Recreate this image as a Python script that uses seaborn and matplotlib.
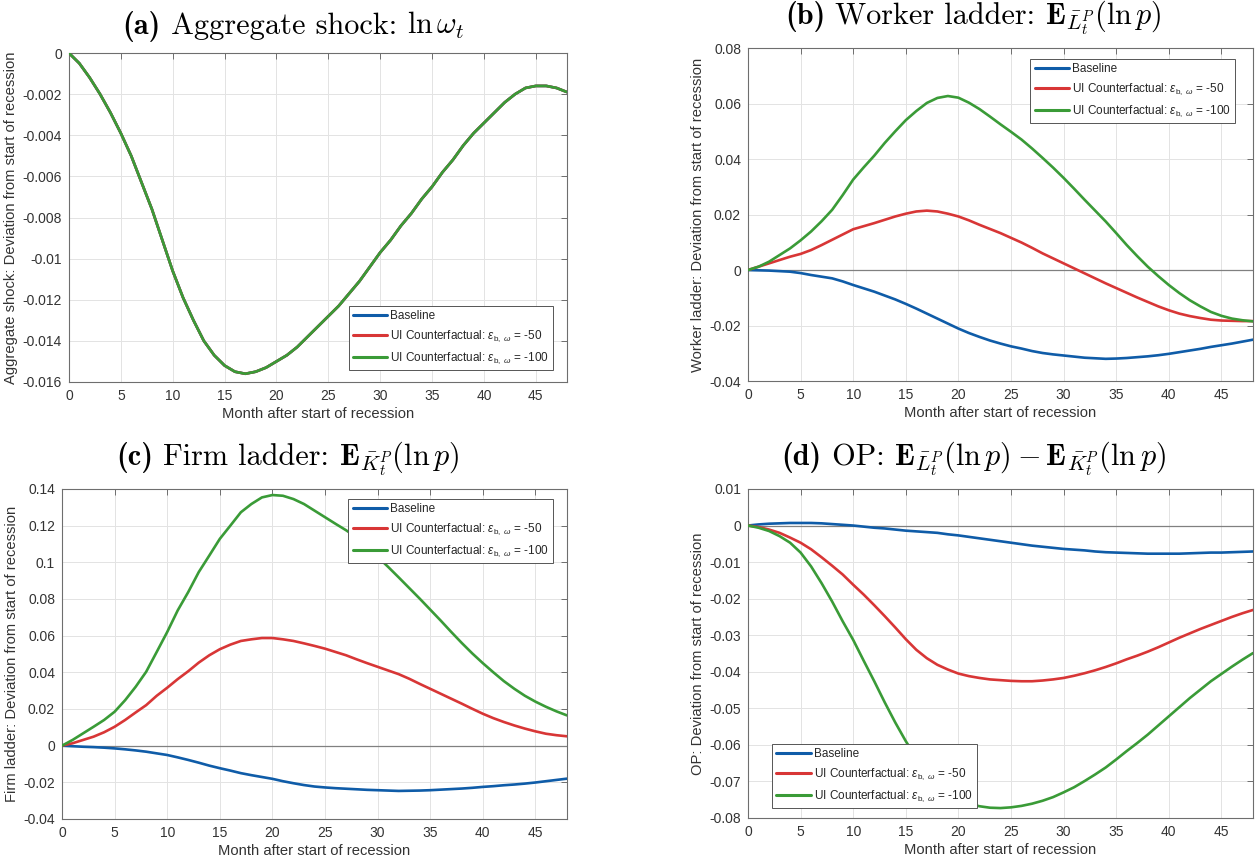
import numpy as np
import pandas as pd
import matplotlib
matplotlib.use("Agg")
import matplotlib.pyplot as plt
from matplotlib.ticker import FuncFormatter, MultipleLocator
from matplotlib.offsetbox import TextArea, HPacker, AnchoredOffsetbox
import seaborn as sns

# Months after the start of the recession
months = list(range(0, 49))

# (a) Aggregate shock ln(omega_t) - identical across scenarios
shock = [0.0, -0.0005, -0.0012, -0.0020, -0.0029, -0.0039, -0.0050, -0.0063, -0.0076, -0.0091,
         -0.0106, -0.0119, -0.0130, -0.0140, -0.0147, -0.0152, -0.0155, -0.0156, -0.0155, -0.0153,
         -0.0150, -0.0147, -0.0143, -0.0138, -0.0133, -0.0128, -0.0123, -0.0117, -0.0111, -0.0104,
         -0.0097, -0.0091, -0.0084, -0.0078, -0.0071, -0.0065, -0.0058, -0.0052, -0.0045, -0.0039,
         -0.0034, -0.0029, -0.0024, -0.0020, -0.0017, -0.0016, -0.0016, -0.0017, -0.0019]

# (b) Worker ladder
worker_base = [0.0, -0.0001, -0.0002, -0.0004, -0.0006, -0.0011, -0.0018, -0.0024, -0.0030, -0.0041,
               -0.0054, -0.0066, -0.0078, -0.0092, -0.0106, -0.0122, -0.0139, -0.0157, -0.0175, -0.0193,
               -0.0211, -0.0227, -0.0241, -0.0254, -0.0265, -0.0275, -0.0283, -0.0292, -0.0299, -0.0304,
               -0.0308, -0.0312, -0.0316, -0.0318, -0.0320, -0.0319, -0.0317, -0.0314, -0.0311, -0.0307,
               -0.0302, -0.0296, -0.0290, -0.0284, -0.0277, -0.0271, -0.0265, -0.0258, -0.0251]
worker_ui50 = [0.0, 0.0012, 0.0024, 0.0036, 0.0048, 0.0058, 0.0072, 0.0090, 0.0109, 0.0128,
               0.0147, 0.0158, 0.0169, 0.0181, 0.0193, 0.0203, 0.0211, 0.0214, 0.0211, 0.0203,
               0.0193, 0.0179, 0.0163, 0.0148, 0.0133, 0.0116, 0.0099, 0.0080, 0.0060, 0.0042,
               0.0024, 0.0006, -0.0012, -0.0030, -0.0048, -0.0065, -0.0082, -0.0099, -0.0115, -0.0131,
               -0.0145, -0.0157, -0.0166, -0.0173, -0.0179, -0.0182, -0.0183, -0.0184, -0.0184]
worker_ui100 = [0.0, 0.0012, 0.0030, 0.0054, 0.0078, 0.0107, 0.0139, 0.0176, 0.0217, 0.0270,
                0.0326, 0.0370, 0.0412, 0.0458, 0.0500, 0.0540, 0.0573, 0.0602, 0.0620, 0.0627,
                0.0621, 0.0603, 0.0580, 0.0553, 0.0525, 0.0498, 0.0470, 0.0438, 0.0404, 0.0369,
                0.0332, 0.0293, 0.0253, 0.0214, 0.0175, 0.0133, 0.0090, 0.0050, 0.0012, -0.0022,
                -0.0054, -0.0083, -0.0109, -0.0131, -0.0151, -0.0165, -0.0175, -0.0181, -0.0185]

# (c) Firm ladder
firm_base = [0.0, -0.0003, -0.0006, -0.0008, -0.0011, -0.0015, -0.0020, -0.0026, -0.0033, -0.0042,
             -0.0051, -0.0064, -0.0078, -0.0093, -0.0109, -0.0123, -0.0136, -0.0150, -0.0161, -0.0171,
             -0.0181, -0.0194, -0.0205, -0.0215, -0.0223, -0.0228, -0.0232, -0.0235, -0.0238, -0.0241,
             -0.0243, -0.0245, -0.0247, -0.0246, -0.0245, -0.0243, -0.0240, -0.0237, -0.0234, -0.0230,
             -0.0225, -0.0221, -0.0216, -0.0212, -0.0207, -0.0201, -0.0194, -0.0187, -0.0180]
firm_ui50 = [0.0, 0.0013, 0.0031, 0.0049, 0.0073, 0.0103, 0.0140, 0.0181, 0.0221, 0.0272,
             0.0316, 0.0363, 0.0406, 0.0453, 0.0493, 0.0526, 0.0551, 0.0571, 0.0580, 0.0587,
             0.0587, 0.0580, 0.0571, 0.0558, 0.0544, 0.0529, 0.0511, 0.0493, 0.0471, 0.0450,
             0.0430, 0.0410, 0.0390, 0.0365, 0.0337, 0.0310, 0.0283, 0.0256, 0.0229, 0.0201,
             0.0174, 0.0150, 0.0129, 0.0110, 0.0093, 0.0078, 0.0065, 0.0057, 0.0051]
firm_ui100 = [0.0, 0.0031, 0.0067, 0.0103, 0.0140, 0.0185, 0.0248, 0.0321, 0.0403, 0.0511,
              0.0620, 0.0738, 0.0838, 0.0947, 0.1037, 0.1128, 0.1200, 0.1273, 0.1318, 0.1354,
              0.1367, 0.1363, 0.1345, 0.1318, 0.1282, 0.1246, 0.1210, 0.1175, 0.1136, 0.1085,
              0.1030, 0.0975, 0.0918, 0.0860, 0.0802, 0.0742, 0.0682, 0.0620, 0.0560, 0.0503,
              0.0450, 0.0400, 0.0352, 0.0310, 0.0272, 0.0240, 0.0212, 0.0187, 0.0165]

# (d) OP: worker ladder minus firm ladder
op_base = [0.0, 0.0003, 0.0005, 0.0006, 0.0007, 0.0007, 0.0007, 0.0006, 0.0004, 0.0002,
           0.0000, -0.0003, -0.0006, -0.0008, -0.0011, -0.0014, -0.0016, -0.0018, -0.0020, -0.0024,
           -0.0027, -0.0031, -0.0035, -0.0039, -0.0043, -0.0047, -0.0051, -0.0055, -0.0058, -0.0061,
           -0.0064, -0.0066, -0.0068, -0.0071, -0.0073, -0.0074, -0.0075, -0.0076, -0.0077, -0.0077,
           -0.0077, -0.0077, -0.0076, -0.0075, -0.0074, -0.0074, -0.0073, -0.0072, -0.0071]
op_ui50 = [0.0, -0.0004, -0.0011, -0.0020, -0.0033, -0.0047, -0.0065, -0.0087, -0.0110, -0.0134,
           -0.0162, -0.0189, -0.0218, -0.0248, -0.0279, -0.0311, -0.0340, -0.0363, -0.0381, -0.0394,
           -0.0405, -0.0412, -0.0417, -0.0421, -0.0423, -0.0425, -0.0426, -0.0426, -0.0424, -0.0421,
           -0.0417, -0.0411, -0.0404, -0.0396, -0.0387, -0.0377, -0.0366, -0.0356, -0.0345, -0.0333,
           -0.0320, -0.0307, -0.0295, -0.0283, -0.0272, -0.0261, -0.0250, -0.0240, -0.0231]
op_ui100 = [0.0, -0.0006, -0.0015, -0.0029, -0.0047, -0.0074, -0.0112, -0.0158, -0.0208, -0.0262,
            -0.0313, -0.0370, -0.0426, -0.0484, -0.0539, -0.0590, -0.0636, -0.0676, -0.0708, -0.0733,
            -0.0750, -0.0761, -0.0768, -0.0772, -0.0773, -0.0771, -0.0767, -0.0761, -0.0753, -0.0743,
            -0.0730, -0.0716, -0.0699, -0.0681, -0.0662, -0.0640, -0.0617, -0.0595, -0.0572, -0.0547,
            -0.0522, -0.0497, -0.0472, -0.0449, -0.0426, -0.0406, -0.0386, -0.0367, -0.0349]

scenarios = ["Baseline",
             r"UI Counterfactual: $\epsilon_{\mathrm{b,}\ \omega}$ = -50",
             r"UI Counterfactual: $\epsilon_{\mathrm{b,}\ \omega}$ = -100"]
colors = ["#0F5CA8", "#D83636", "#3A9B37"]

# panel titles: (bold tag, roman words, math part)
title_parts = [
    ("(a)", " Aggregate shock: ", r"$\ln\omega_t$"),
    ("(b)", " Worker ladder: ", r"$\mathbf{E}_{\bar{L}_t^P}(\ln p)$"),
    ("(c)", " Firm ladder: ", r"$\mathbf{E}_{\bar{K}_t^P}(\ln p)$"),
    ("(d)", " OP: ", r"$\mathbf{E}_{\bar{L}_t^P}(\ln p) - \mathbf{E}_{\bar{K}_t^P}(\ln p)$"),
]
ylabels = ["Aggregate shock: Deviation from start of recession",
           "Worker ladder: Deviation from start of recession",
           "Firm ladder: Deviation from start of recession",
           "OP: Deviation from start of recession"]
xlabel = "Month after start of recession"

panels = [
    [shock, shock, shock],
    [worker_base, worker_ui50, worker_ui100],
    [firm_base, firm_ui50, firm_ui100],
    [op_base, op_ui50, op_ui100],
]
ylims = [(-0.016, 0.0), (-0.04, 0.08), (-0.04, 0.14), (-0.08, 0.01)]
ysteps = [0.002, 0.02, 0.02, 0.01]

# axes rectangles in figure fractions
positions = [
    (0.0548, 0.5584, 0.3959, 0.3803),
    (0.5946, 0.5595, 0.4014, 0.3850),
    (0.0493, 0.0532, 0.4014, 0.3815),
    (0.5946, 0.0544, 0.4014, 0.3803),
]
title_x = [0.451, 0.4465, 0.4465, 0.4475]
legend_specs = [
    ("lower right", (0.972, 0.036)),
    ("upper right", (0.964, 0.967)),
    ("upper right", (0.972, 0.970)),
    ("lower left", (0.048, 0.030)),
]

sns.set_theme(style="white")
plt.rcParams["font.family"] = ["Liberation Sans", "DejaVu Sans"]
plt.rcParams["mathtext.fontset"] = "custom"
plt.rcParams["mathtext.rm"] = "Liberation Sans"
plt.rcParams["mathtext.it"] = "Liberation Sans:italic"
plt.rcParams["mathtext.bf"] = "Liberation Sans:bold"
plt.rcParams["axes.unicode_minus"] = False

fig = plt.figure(figsize=(12.58, 8.65), dpi=100)
fig.patch.set_facecolor("white")

fmt = FuncFormatter(lambda v, _: "0" if abs(v) < 1e-12 else f"{v:.4g}")
axis_grey = "#6E6E6E"
text_grey = "#333333"
TITLE_SIZE = 21.8


def add_title(ax, parts, xfrac):
    tag, words, math = parts
    boxes = [
        TextArea(tag, textprops=dict(family="cmb10", size=TITLE_SIZE, color="black")),
        TextArea(words, textprops=dict(family="cmr10", size=TITLE_SIZE, color="black")),
        TextArea(math, textprops=dict(size=TITLE_SIZE, math_fontfamily="cm", color="black")),
    ]
    pack = HPacker(children=boxes, align="baseline", pad=0, sep=0)
    gap = 11.0 / (ax.get_position().height * fig.bbox.height)
    box = AnchoredOffsetbox(loc="lower center", child=pack, pad=0, borderpad=0,
                            frameon=False, bbox_to_anchor=(xfrac, 1 + gap),
                            bbox_transform=ax.transAxes)
    ax.add_artist(box)


for i in range(4):
    ax = fig.add_axes(positions[i])
    frames = []
    for name, vals in zip(scenarios, panels[i]):
        frames.append(pd.DataFrame({"month": months, "value": vals, "scenario": name}))
    df = pd.concat(frames, ignore_index=True)

    if i > 0:
        ax.axhline(0, color="#808080", lw=0.9, zorder=1)

    sns.lineplot(data=df, x="month", y="value", hue="scenario",
                 hue_order=scenarios, palette=colors, linewidth=1.9,
                 ax=ax, legend=False, zorder=3)

    ax.set_xlim(0, 48)
    ax.set_ylim(*ylims[i])
    ax.xaxis.set_major_locator(MultipleLocator(5))
    ax.yaxis.set_major_locator(MultipleLocator(ysteps[i]))
    ax.yaxis.set_major_formatter(fmt)
    ax.grid(True, color="#E3E3E3", lw=0.7)
    ax.set_axisbelow(True)
    for sp in ax.spines.values():
        sp.set_color(axis_grey)
        sp.set_linewidth(0.8)
    ax.tick_params(direction="in", length=4.5, width=0.7, color=axis_grey,
                   top=True, right=True, labelsize=10, labelcolor=text_grey, pad=5)

    ax.set_xlabel(xlabel, fontsize=10.6, color=text_grey, labelpad=3)
    ax.set_ylabel(ylabels[i], fontsize=10.6, color=text_grey, labelpad=3)
    add_title(ax, title_parts[i], title_x[i])

    handles = [plt.Line2D([], [], color=c, lw=2.2) for c in colors]
    loc, anchor = legend_specs[i]
    leg = ax.legend(handles, scenarios, loc=loc, bbox_to_anchor=anchor,
                    borderaxespad=0, fontsize=8.5, frameon=True, fancybox=False,
                    framealpha=1, edgecolor="#555555", handlelength=2.9,
                    handletextpad=0.25, labelspacing=0.55, borderpad=0.35)
    leg.get_frame().set_linewidth(0.7)
    leg.set_zorder(5)

fig.savefig("out.png", dpi=100, facecolor="white")
